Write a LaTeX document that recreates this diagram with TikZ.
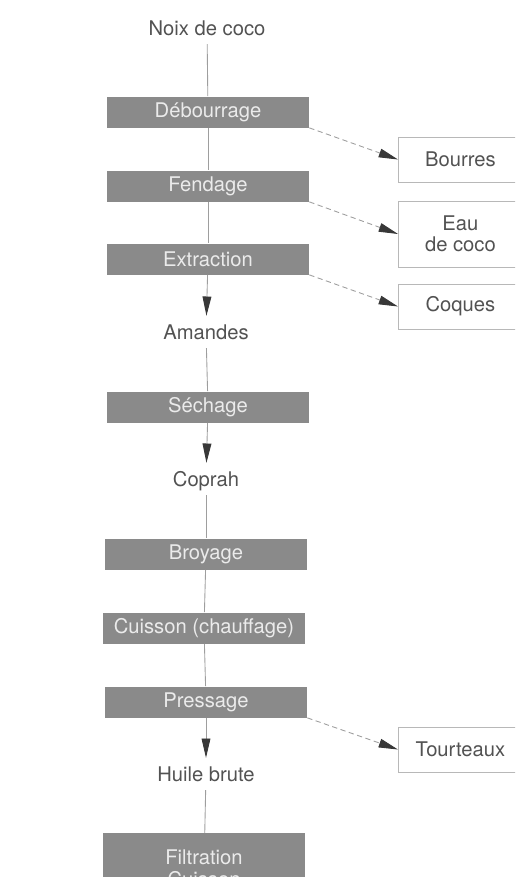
\documentclass[tikz,border=0pt]{standalone}
\usepackage{fontspec}
\setmainfont{TeX Gyre Heros}
\usepackage{tikz}
\usetikzlibrary{arrows.meta,positioning}
\colorlet{txt}{black!68}
\colorlet{boxc}{black!46}
\colorlet{lin}{black!38}

\begin{document}
\begin{tikzpicture}[x=0.02cm,y=-0.02cm,font=\fontsize{11.5}{12.2}\selectfont,
  p/.style={fill=boxc,text=white!92!black,minimum width=4.04cm,minimum height=0.62cm,inner sep=0pt},
  t/.style={text=txt,inner sep=4.5pt,text height=8.5pt,text depth=0.5pt},
  o/.style={draw=black!28,line width=0.5pt,text=txt,anchor=west,minimum width=2.48cm,minimum height=0.9cm,align=center},
  l/.style={draw=lin,line width=0.5pt},
  a/.style={l,-{Triangle[length=11pt,width=5pt,color=black!78]}},
  d/.style={a,dash pattern=on 3pt off 2pt}]
  \useasboundingbox (0,0) rectangle (515,877);
  \clip (0,0) rectangle (515,877);
  % chaine principale
  \node[t](noix)at(207,28){Noix de coco};
  \node[p](deb)at(208,112){Débourrage};\node[p](fen)at(208,186){Fendage};\node[p](ext)at(208,259){Extraction};
  \node[t](am)at(206,332){Amandes};
  \node[p](sec)at(208,407){Séchage};
  \node[t](cop)at(206,479){Coprah};
  \node[p](bro)at(206,554){Broyage};\node[p](cui)at(204,628){Cuisson (chauffage)};\node[p](pre)at(206,702){Pressage};
  \node[t](hui)at(206,774){Huile brute};
  \node[p,anchor=north,align=center,minimum height=1.4cm,inner sep=4pt,anchor=north](fil)at(204,833){Filtration\\Cuisson};
  % sous-produits
  \node[o](bou)at(398,159.5){Bourres};
  \node[o,minimum height=1.32cm](eau)at(398,234){Eau\\de coco};
  \node[o](coq)at(398,306.5){Coques};
  \node[o](tou)at(398,749.5){Tourteaux};
  \draw[l](noix)--(deb);\draw[l](deb)--(fen);\draw[l](fen)--(ext);\draw[a](ext)--(am);
  \draw[l](am)--(sec);\draw[a](sec)--(cop);
  \draw[l](cop)--(bro);\draw[l](bro)--(cui);\draw[l](cui)--(pre);\draw[a](pre)--(hui);
  \draw[l](hui)--(fil);
  \draw[d](deb.south east)--(bou.west);\draw[d](fen.south east)--(eau.west);
  \draw[d](ext.south east)--(coq.west);\draw[d](pre.south east)--(tou.west);
\end{tikzpicture}
\end{document}
